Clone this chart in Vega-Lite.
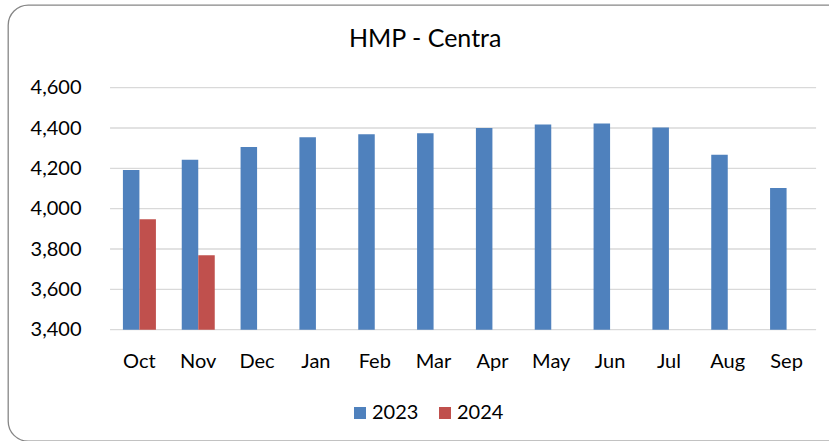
{
  "$schema": "https://vega.github.io/schema/vega-lite/v6.json",
  "width": 860,
  "height": 436,
  "autosize": {"type": "none"},
  "padding": {"left": 8, "top": 5, "right": 0, "bottom": 0},
  "background": "white",
  "title": {"text": "HMP - Centra", "anchor": "start", "frame": "group", "offset": -67, "baseline": "alphabetic", "fontSize": 25, "font": "Lato", "fontWeight": "normal", "color": "#000000", "dx": 341},
  "config": {
    "view": {"stroke": "#868686", "strokeWidth": 1.3, "cornerRadius": 20, "fill": "white"},
    "font": "Lato"
  },
  "datasets": {
    "grid": [{"v": 3400}, {"v": 3600}, {"v": 3800}, {"v": 4000}, {"v": 4200}, {"v": 4400}, {"v": 4600}],
    "sales": [
      {"month": "Oct", "year": "2023", "value": 4192},
      {"month": "Nov", "year": "2023", "value": 4243},
      {"month": "Dec", "year": "2023", "value": 4306},
      {"month": "Jan", "year": "2023", "value": 4354},
      {"month": "Feb", "year": "2023", "value": 4369},
      {"month": "Mar", "year": "2023", "value": 4374},
      {"month": "Apr", "year": "2023", "value": 4400},
      {"month": "May", "year": "2023", "value": 4418},
      {"month": "Jun", "year": "2023", "value": 4423},
      {"month": "Jul", "year": "2023", "value": 4402},
      {"month": "Aug", "year": "2023", "value": 4268},
      {"month": "Sep", "year": "2023", "value": 4102},
      {"month": "Oct", "year": "2024", "value": 3947},
      {"month": "Nov", "year": "2024", "value": 3769}
    ]
  },
  "layer": [
    {
      "data": {"name": "grid"},
      "mark": {"type": "rule", "color": "#d9d9d9", "strokeWidth": 1.3},
      "encoding": {
        "y": {"field": "v", "type": "quantitative"},
        "x": {"datum": "Oct", "type": "nominal", "bandPosition": -0.39},
        "x2": {"datum": "Sep", "bandPosition": 1.394}
      }
    },
    {
      "data": {"name": "sales"},
      "mark": {"type": "bar"},
      "encoding": {
        "x": {
          "field": "month", "type": "nominal",
          "scale": {"domain": ["Oct", "Nov", "Dec", "Jan", "Feb", "Mar", "Apr", "May", "Jun", "Jul", "Aug", "Sep"], "range": [102, 808], "paddingInner": 0.439, "paddingOuter": 0.2195, "align": 0.5, "round": false},
          "axis": {"orient": "bottom", "bandPosition": 0.5, "offset": -79.5, "labelPadding": 0, "ticks": false, "tickSize": 0, "domain": false, "labelBaseline": "middle", "labelAlign": "center", "labelAngle": 0, "title": null, "labelFontSize": 20, "labelColor": "#000000", "labelFont": "Lato", "grid": false}
        },
        "xOffset": {"field": "year", "type": "nominal", "scale": {"paddingInner": 0, "paddingOuter": 0}},
        "y": {
          "field": "value", "type": "quantitative",
          "scale": {"domain": [2848, 5010], "nice": false, "zero": false},
          "axis": {"values": [3400, 3600, 3800, 4000, 4200, 4400, 4600], "format": ",d", "offset": -73, "labelPadding": 0, "ticks": false, "tickSize": 0, "domain": false, "grid": false, "title": null, "labelFontSize": 20, "labelColor": "#000000", "labelFont": "Lato"}
        },
        "y2": {"datum": 3400},
        "color": {
          "field": "year", "type": "nominal",
          "scale": {"domain": ["2023", "2024"], "range": ["#4F81BD", "#C0504D"]},
          "legend": {"orient": "none", "legendX": 342, "legendY": 398, "direction": "horizontal", "title": null, "symbolType": "square", "symbolSize": 144, "symbolStrokeWidth": 0, "labelFontSize": 20, "labelOffset": 2, "columnPadding": 16, "padding": 0, "labelColor": "#000000", "labelFont": "Lato"}
        }
      }
    }
  ]
}
